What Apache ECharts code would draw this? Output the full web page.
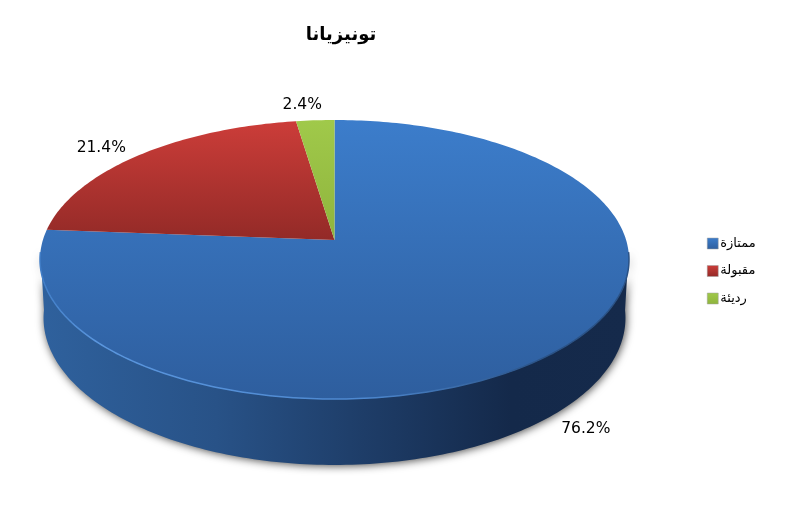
<!DOCTYPE html>
<html><head><meta charset="utf-8">
<style>html,body{margin:0;padding:0;background:#fff}#c{width:791px;height:510px}</style>
<script src="https://cdn.jsdelivr.net/npm/echarts@6/dist/echarts.min.js"></script>
</head><body><div id="c"></div>
<script>
const titleText = 'تونيزيانا';
const categories = ['ممتازة', 'مقبولة', 'رديئة'];
const values = [76.2, 21.4, 2.4];
const labels = ['76.2%', '21.4%', '2.4%'];

const topColors = [['#3c7dcb', '#2e5e9e'], ['#cc3d39', '#932a27'], ['#a0c94a', '#8fb43d']];
const labelOffsets = [[33, 14], [-38, -7], [-13, -15]];

const total = values.reduce((a, b) => a + b, 0);
const P = 0.14, CX = 334.5;
const TOP = { A: 291.6, B: 136.8, Y: 240 };
const BOT = { A: 288.1, B: 144.1, Y: 297.4 };
const SIDE_FROM = 95, SIDE_TO = 265;

function rim(deg, g) {
  const t = deg * Math.PI / 180, x = Math.sin(t), y = -Math.cos(t), w = 1 - P * y;
  return [CX + g.A * x / w, g.Y + g.B * y / w];
}
function arc(a, b, g) {
  const n = Math.max(2, Math.ceil(Math.abs(b - a))), pts = [];
  for (let i = 0; i <= n; i++) pts.push(rim(a + (b - a) * i / n, g));
  return pts;
}
function grad(c) {
  return { type: 'linear', x: 0, y: 0, x2: 0, y2: 1,
    colorStops: [{ offset: 0, color: c[0] }, { offset: 1, color: c[1] }] };
}

function renderItem(idx) {
  return function (params, api) {
    const v = api.value(0);
    let before = 0;
    for (let i = 0; i < idx; i++) before += values[i];
    const a0 = before / total * 360, a1 = (before + v) / total * 360, mid = (a0 + a1) / 2;
    const kids = [];
    const s0 = Math.max(a0, SIDE_FROM), s1 = Math.min(a1, SIDE_TO);
    if (s1 > s0) {
      const side = arc(s0, s1, TOP).concat(arc(s1, s0, BOT));
      kids.push({ type: 'polygon', z2: 1, shape: { points: side }, style: {
        fill: { type: 'linear', x: 0, y: 0, x2: 1, y2: 0, colorStops: [
          { offset: 0, color: '#2f619d' }, { offset: 0.3, color: '#285287' },
          { offset: 0.55, color: '#1e3d68' }, { offset: 0.8, color: '#14294a' },
          { offset: 1, color: '#152a4b' }] },
        shadowBlur: 9, shadowColor: 'rgba(0,0,0,0.7)', shadowOffsetX: 1, shadowOffsetY: 1 } });
    }
    const apex = [CX, TOP.Y];
    const pts = [apex].concat(arc(a0, a1, TOP));
    const ys = pts.map(p => p[1]), minY = Math.min(...ys), maxY = Math.max(...ys);
    kids.push({ type: 'polygon', z2: 2, shape: { points: pts }, style: {
      fill: {
        type: 'linear', global: true, x: 0, y: idx === 0 ? 120 : minY, x2: 0, y2: idx === 0 ? 399 : maxY,
        colorStops: grad(topColors[idx]).colorStops
      }, stroke: 'none' } });
    if (s1 > s0) {
      kids.push({ type: 'polyline', z2: 3, shape: { points: arc(s0, s1, TOP) }, style: {
        fill: 'none', lineWidth: 1.5,
        stroke: { type: 'linear', x: 0, y: 0, x2: 1, y2: 0, colorStops: [
          { offset: 0, color: '#3f7cc6' }, { offset: 0.1, color: '#5a96de' }, { offset: 0.55, color: '#4d88d0' },
          { offset: 0.85, color: '#2a5286' }, { offset: 1, color: '#2a5286' }] } } });
    }
    const r = rim(mid, idx === 0 ? BOT : TOP), off = labelOffsets[idx];
    kids.push({ type: 'text', z2: 5, style: {
      text: labels[idx], x: r[0] + off[0], y: r[1] + off[1],
      align: 'center', verticalAlign: 'middle',
      font: '15.5px "DejaVu Sans"', fill: '#000' } });
    return { type: 'group', children: kids };
  };
}

const chart = echarts.init(document.getElementById('c'), null, { renderer: 'canvas' });
chart.setOption({
  backgroundColor: '#fff',
  animation: false,
  title: { text: titleText, left: 336, top: 21, textAlign: 'center',
    textStyle: { fontFamily: 'DejaVu Sans', fontWeight: 'bold', fontSize: 18, color: '#000' } },
  legend: {
    orient: 'vertical', left: 707, top: 237, padding: 0, itemWidth: 11, itemHeight: 11, itemGap: 14.5, icon: 'rect',
    textStyle: { fontFamily: 'DejaVu Sans', fontSize: 13, color: '#000', padding: [0, 0, 0, -3] },
    data: categories.map((c, i) => ({ name: c, itemStyle: { color: grad(topColors[i]), borderColor: '#a0a0a0', borderWidth: 0.5 } }))
  },
  series: categories.map((c, i) => ({
    type: 'custom', name: c, coordinateSystem: 'none', silent: true,
    itemStyle: { color: topColors[i][0] },
    renderItem: renderItem(i),
    data: [[values[i]]]
  }))
});
</script></body></html>
